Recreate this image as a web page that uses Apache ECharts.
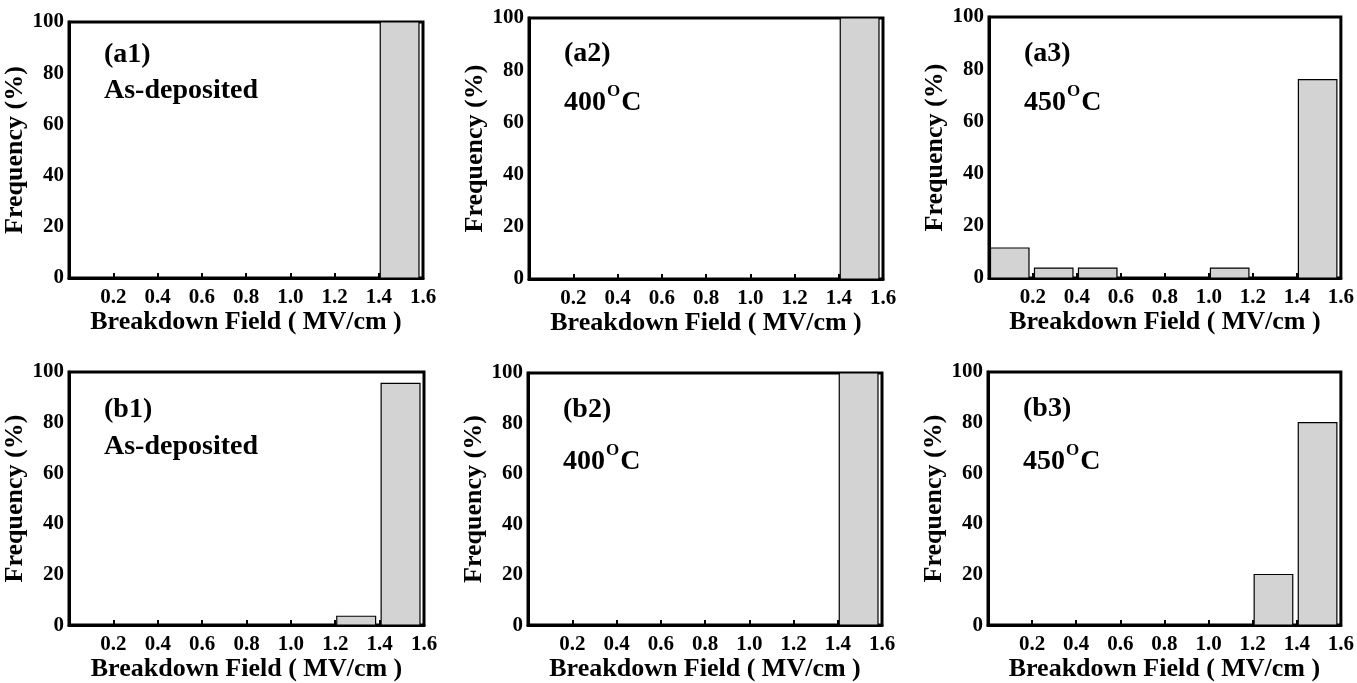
<!DOCTYPE html>
<html>
<head>
<meta charset="utf-8">
<script src="https://cdn.jsdelivr.net/npm/echarts@6/dist/echarts.min.js"></script>
<style>
html,body{margin:0;padding:0;background:#fff;}
#chart{width:1357px;height:683px;}
</style>
</head>
<body>
<div id="chart"></div>
<script>
// ---- data ----
var binEdges = [0, 0.2, 0.4, 0.6, 0.8, 1.0, 1.2, 1.4, 1.6];
var freqA1 = [0, 0, 0, 0, 0, 0, 0, 100];
var freqA2 = [0, 0, 0, 0, 0, 0, 0, 100];
var freqA3 = [11.5, 3.8, 3.8, 0, 0, 3.8, 0, 76];
var freqB1 = [0, 0, 0, 0, 0, 0, 3.5, 95.5];
var freqB2 = [0, 0, 0, 0, 0, 0, 0, 100];
var freqB3 = [0, 0, 0, 0, 0, 0, 20, 80];
var panelTags = ['(a1)', '(a2)', '(a3)', '(b1)', '(b2)', '(b3)'];
var panelConditions = ['As-deposited', '400', '450', 'As-deposited', '400', '450'];
var xTickValues = [0, 0.2, 0.4, 0.6, 0.8, 1.0, 1.2, 1.4, 1.6];
var yTickValues = [0, 20, 40, 60, 80, 100];
var xAxisTitle = 'Breakdown Field ( MV/cm )';
var yAxisTitle = 'Frequency (%)';

// ---- layout ----
var panels = [freqA1, freqA2, freqA3, freqB1, freqB2, freqB3];
var grids = [
  {left: 69, top: 22, width: 354, height: 256},
  {left: 529, top: 18, width: 354, height: 261},
  {left: 989, top: 17, width: 354, height: 261},
  {left: 69, top: 372, width: 355, height: 259},
  {left: 528, top: 373, width: 354, height: 260},
  {left: 988, top: 372, width: 354, height: 261}
];
var textOffsets = [[34, 72], [37, 82], [38, 83], [39, 78], [38, 86], [38, 87]];

var SERIF = "'Liberation Serif','Times New Roman',serif";

var option = {
  animation: false,
  backgroundColor: '#fff',
  grid: [], xAxis: [], yAxis: [], series: [], graphic: []
};

panels.forEach(function (vals, i) {
  var g = grids[i];
  option.grid.push({
    left: g.left, top: g.top, width: g.width, height: g.height,
    show: true, borderColor: '#000', borderWidth: 3, backgroundColor: 'transparent'
  });
  option.xAxis.push({
    type: 'value', gridIndex: i,
    min: xTickValues[0], max: xTickValues[xTickValues.length - 1], interval: 0.2,
    splitLine: {show: false},
    axisLine: {show: true, lineStyle: {color: '#000', width: 3}},
    axisTick: {show: true, inside: true, length: 5, lineStyle: {color: '#000', width: 2}},
    axisLabel: {
      show: true, margin: 9, color: '#000', fontFamily: SERIF, fontWeight: 'bold', fontSize: 21,
      formatter: function (v) { return v === 0 ? '' : v.toFixed(1); }
    },
    name: xAxisTitle, nameLocation: 'middle', nameGap: 26,
    nameTextStyle: {color: '#000', fontFamily: SERIF, fontWeight: 'bold', fontSize: 26}
  });
  option.yAxis.push({
    type: 'value', gridIndex: i,
    min: yTickValues[0], max: yTickValues[yTickValues.length - 1], interval: 20,
    splitLine: {show: false},
    axisLine: {show: true, lineStyle: {color: '#000', width: 3}},
    axisTick: {show: false},
    axisLabel: {show: true, margin: 5, color: '#000', fontFamily: SERIF, fontWeight: 'bold', fontSize: 21},
    name: yAxisTitle, nameLocation: 'middle', nameGap: 33,
    nameTextStyle: {color: '#000', fontFamily: SERIF, fontWeight: 'bold', fontSize: 26}
  });
  var data = [];
  for (var k = 0; k < vals.length; k++) {
    data.push([binEdges[k], binEdges[k + 1], vals[k]]);
  }
  option.series.push({
    type: 'custom', xAxisIndex: i, yAxisIndex: i,
    data: data,
    renderItem: function (params, api) {
      var v = api.value(2);
      if (!v) return null;
      var p0 = api.coord([api.value(0), 0]);
      var p1 = api.coord([api.value(1), v]);
      var x = p0[0] + 1.5;
      var w = p1[0] - p0[0] - 5.5;
      return {
        type: 'rect',
        shape: {x: x, y: p1[1], width: w, height: p0[1] - p1[1]},
        style: {fill: '#d3d3d3', stroke: '#000', lineWidth: 1.2}
      };
    },
    z: 3
  });
  var off = textOffsets[i];
  option.graphic.push({
    type: 'text', left: g.left + 35, top: g.top + off[0] - 15,
    style: {text: panelTags[i], fill: '#000', font: 'bold 28px ' + SERIF}
  });
  var cond = panelConditions[i];
  var isTemp = cond !== 'As-deposited';
  option.graphic.push({
    type: 'text', left: g.left + 35, top: g.top + off[1] - 17,
    style: {
      text: isTemp ? '{n|' + cond + '}{s|O}{n|C}' : cond,
      fill: '#000', font: 'bold 28px ' + SERIF,
      rich: {
        n: {fontFamily: SERIF, fontWeight: 'bold', fontSize: 28, lineHeight: 34, fill: '#000', verticalAlign: 'bottom'},
        s: {fontFamily: SERIF, fontWeight: 'bold', fontSize: 17, lineHeight: 20, fill: '#000', verticalAlign: 'top', padding: [0, 1, 0, 1]}
      }
    }
  });
});

var chart = echarts.init(document.getElementById('chart'), null, {renderer: 'canvas'});
chart.setOption(option);
</script>
</body>
</html>
